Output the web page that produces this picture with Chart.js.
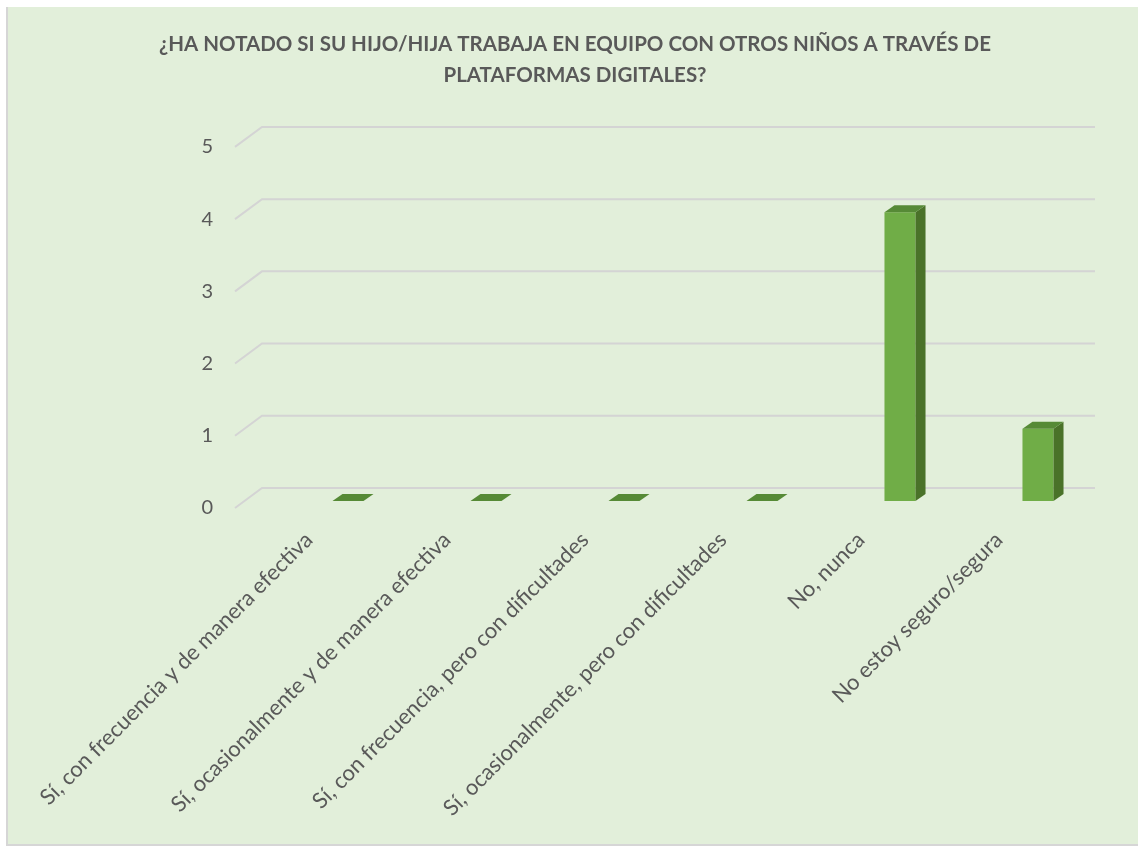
<!DOCTYPE html>
<html>
<head>
<meta charset="utf-8">
<script src="https://cdn.jsdelivr.net/npm/chart.js@4.4.1/dist/chart.umd.min.js"></script>
<style>
  body { margin: 0; background: #fff; }
  #wrap {
    position: absolute; left: 6px; top: 7px;
    width: 1130px; height: 837px;
    background: #e2efda;
    border-left: 2px solid #d6d6d6;
    border-bottom: 2px solid #d6d6d6;
  }
</style>
</head>
<body>
<div id="wrap"><canvas id="chart" width="1130" height="837"></canvas></div>
<script>
// categorías y valores
const categorias = [
    "Sí, con frecuencia y de manera efectiva",
    "Sí, ocasionalmente y de manera efectiva",
    "Sí, con frecuencia, pero con dificultades",
    "Sí, ocasionalmente, pero con dificultades",
    "No, nunca",
    "No estoy seguro/segura"
];
const respuestas = [0, 0, 0, 0, 4, 1];
const ticksY = [0, 1, 2, 3, 4, 5];
const titulo = [
    "¿HA NOTADO SI SU HIJO/HIJA TRABAJA EN EQUIPO CON OTROS NIÑOS A TRAVÉS DE",
    "PLATAFORMAS DIGITALES?"
];

const TEXTO = "#595959";
const FUENTE = "Lato, 'Open Sans', sans-serif";

// efecto 3D: rejilla en perspectiva
const rejilla3D = {
    id: "rejilla3D",
    beforeDatasetsDraw(chart) {
        const y = chart.scales.y;
        const ctx = chart.ctx;
        ctx.save();
        ctx.strokeStyle = "#d4d4d4";
        ctx.lineWidth = 2;
        ticksY.forEach(v => {
            const yb = y.getPixelForValue(v) - 13;
            ctx.beginPath();
            ctx.moveTo(227, yb + 20);
            ctx.lineTo(254, yb);
            ctx.lineTo(1087, yb);
            ctx.stroke();
        });
        ctx.restore();
    }
};

// caras lateral y superior de las barras
const barras3D = {
    id: "barras3D",
    afterDatasetsDraw(chart) {
        const ctx = chart.ctx;
        const dx = 10, dy = -7;
        ctx.save();
        chart.getDatasetMeta(0).data.forEach(bar => {
            const l = bar.x - bar.width / 2, r = bar.x + bar.width / 2;
            const top = bar.y, base = bar.base;
            if (base - top > 0.5) {
                ctx.fillStyle = "#4a7229";
                ctx.beginPath();
                ctx.moveTo(r, top);
                ctx.lineTo(r + dx, top + dy);
                ctx.lineTo(r + dx, base + dy);
                ctx.lineTo(r, base);
                ctx.closePath();
                ctx.fill();
            }
            ctx.fillStyle = "#568a36";
            ctx.beginPath();
            ctx.moveTo(l, top);
            ctx.lineTo(l + dx, top + dy);
            ctx.lineTo(r + dx, top + dy);
            ctx.lineTo(r, top);
            ctx.closePath();
            ctx.fill();
        });
        ctx.restore();
    }
};

new Chart(document.getElementById("chart"), {
    type: "bar",
    data: {
        labels: categorias,
        datasets: [{
            data: respuestas,
            backgroundColor: "#70ad47",
            borderWidth: 0,
            categoryPercentage: 1,
            barPercentage: 0.225
        }]
    },
    options: {
        responsive: false,
        animation: false,
        layout: { padding: { left: 4, right: 0, top: 0, bottom: 0 } },
        plugins: {
            legend: { display: false },
            tooltip: { enabled: false },
            title: {
                display: true,
                text: titulo,
                color: TEXTO,
                font: { family: FUENTE, size: 20.5, weight: "bold", lineHeight: 1.51 },
                padding: { top: 21.5, bottom: 49.5 }
            }
        },
        scales: {
            x: {
                grid: { display: false, drawTicks: false },
                border: { display: false },
                ticks: {
                    autoSkip: false,
                    maxRotation: 45,
                    minRotation: 45,
                    labelOffset: -39,
                    padding: 26,
                    color: TEXTO,
                    font: { family: FUENTE, size: 22 }
                },
                afterFit(scale) { scale.height = 343; }
            },
            y: {
                min: 0,
                max: 5,
                grid: { display: false, drawTicks: false },
                border: { display: false },
                ticks: {
                    stepSize: 1,
                    padding: 66,
                    labelOffset: 7,
                    color: TEXTO,
                    font: { family: FUENTE, size: 20 }
                },
                afterFit(scale) { scale.width = 267; }
            },
            // eje vacío a la derecha, solo reserva el margen
            derecha: {
                type: "linear",
                position: "right",
                grid: { display: false, drawTicks: false },
                border: { display: false },
                ticks: { display: false },
                afterFit(scale) { scale.width = 31; }
            }
        }
    },
    plugins: [rejilla3D, barras3D]
});
</script>
</body>
</html>
